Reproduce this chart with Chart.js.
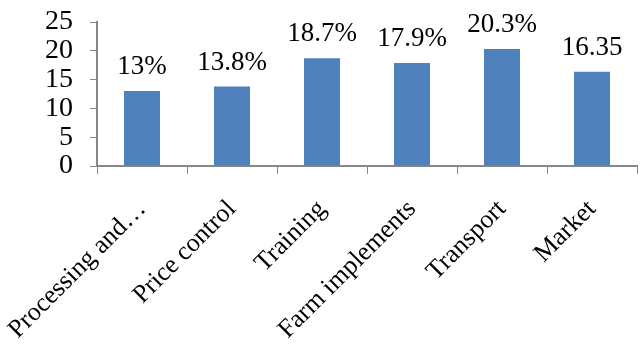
<!DOCTYPE html>
<html lang="en">
<head>
    <meta charset="UTF-8">
    <title>Constraints</title>
    <script src="https://cdn.jsdelivr.net/npm/chart.js@4.4.0/dist/chart.umd.min.js"></script>
    <style>
        html, body { margin: 0; padding: 0; background: #fff; }
        #wrap { position: relative; width: 640px; height: 356px; }
    </style>
</head>
<body>
    <div id="wrap"><canvas id="chart"></canvas></div>
    <script>
        // Chart data
        const categories = ['Processing and\u2026', 'Price control', 'Training', 'Farm implements', 'Transport', 'Market'];
        const values = [13, 13.8, 18.7, 17.9, 20.3, 16.35];
        const valueLabels = ['13%', '13.8%', '18.7%', '17.9%', '20.3%', '16.35'];
        const yTicks = [0, 5, 10, 15, 20, 25];

        const serif = '"Liberation Serif", "Times New Roman", serif';
        const axisGrey = '#868686';

        // Draw value labels above each bar
        const barLabels = {
            id: 'barLabels',
            afterDatasetsDraw(chart) {
                const ctx = chart.ctx;
                const meta = chart.getDatasetMeta(0);
                ctx.save();
                ctx.font = '27px ' + serif;
                ctx.fillStyle = '#000';
                ctx.textAlign = 'center';
                ctx.textBaseline = 'alphabetic';
                meta.data.forEach((bar, i) => {
                    ctx.fillText(valueLabels[i], bar.x, bar.y - 17);
                });
                ctx.restore();
            }
        };

        new Chart(document.getElementById('chart'), {
            type: 'bar',
            data: {
                labels: categories,
                datasets: [{
                    data: values,
                    backgroundColor: '#4F81BD',
                    borderWidth: 0,
                    barPercentage: 0.4,
                    categoryPercentage: 1
                }]
            },
            options: {
                responsive: true,
                maintainAspectRatio: false,
                animation: false,
                layout: { padding: { top: 22, right: 3, left: 0, bottom: 0 } },
                plugins: {
                    legend: { display: false },
                    tooltip: { enabled: false }
                },
                scales: {
                    x: {
                        grid: {
                            display: true,
                            drawOnChartArea: false,
                            drawTicks: true,
                            tickLength: 8,
                            color: axisGrey,
                            offset: true
                        },
                        border: { color: axisGrey, width: 2 },
                        ticks: {
                            color: '#000',
                            font: { family: serif, size: 26 },
                            minRotation: 45,
                            maxRotation: 45,
                            autoSkip: false,
                            padding: 20
                        },
                        afterFit(scale) {
                            scale.height = 190;
                            // let the rotated labels overhang to the left
                            scale.paddingLeft = 0;
                            scale.paddingRight = 0;
                        }
                    },
                    y: {
                        min: 0,
                        max: 25,
                        afterBuildTicks(scale) {
                            scale.ticks = yTicks.map(v => ({ value: v }));
                        },
                        grid: {
                            display: true,
                            drawOnChartArea: false,
                            drawTicks: true,
                            tickLength: 7,
                            color: axisGrey
                        },
                        border: { color: axisGrey, width: 2 },
                        ticks: {
                            color: '#000',
                            font: { family: serif, size: 28 },
                            padding: 17,
                            autoSkip: false
                        },
                        afterFit(scale) {
                            scale.width = 97;
                            scale.paddingTop = 0;
                            scale.paddingBottom = 0;
                        }
                    }
                }
            },
            plugins: [barLabels]
        });
    </script>
</body>
</html>
